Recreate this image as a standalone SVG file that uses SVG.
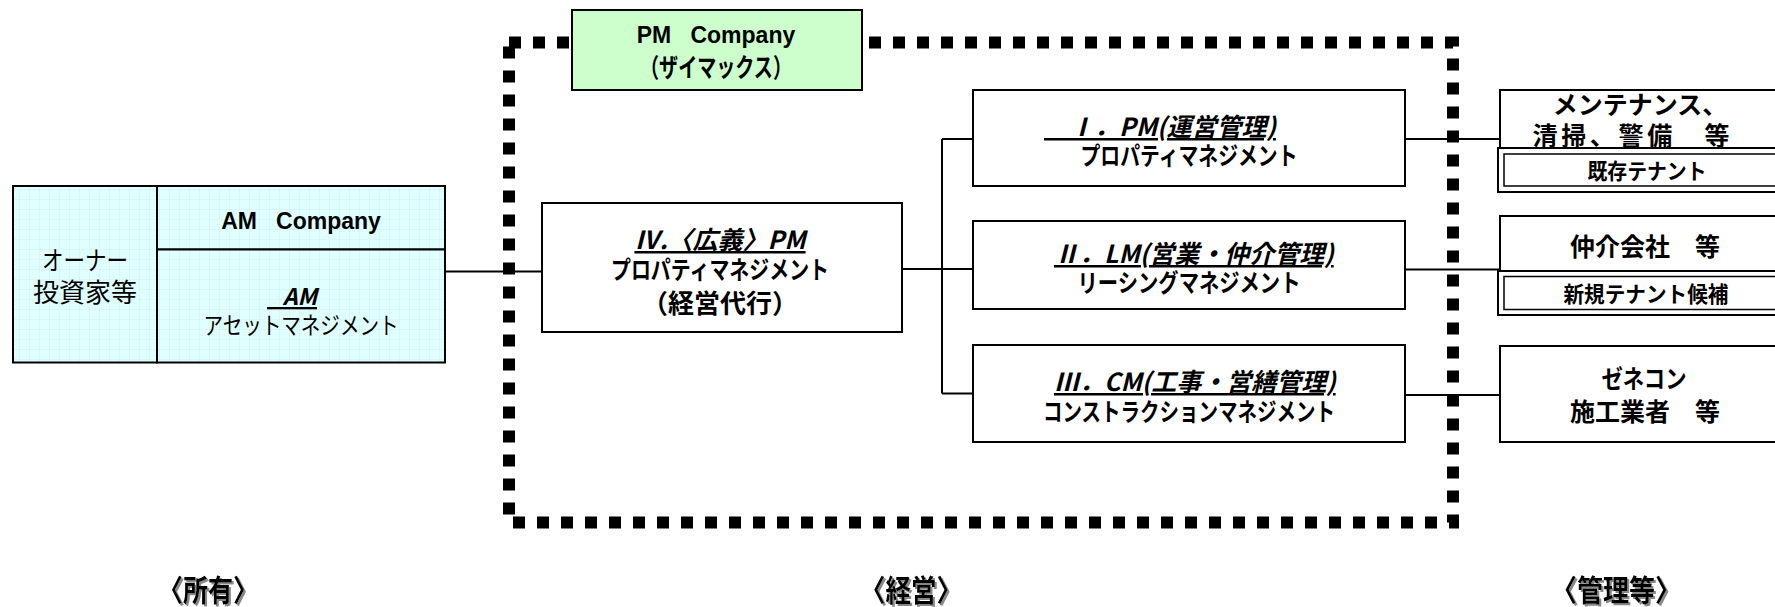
<svg xmlns="http://www.w3.org/2000/svg" width="1775" height="607" viewBox="0 0 1775 607">
<style>
text{font-family:"Liberation Sans","Noto Sans CJK JP",sans-serif;fill:#000;dominant-baseline:central;text-anchor:middle}
.b{font-weight:bold;font-size:25px}
.r{font-size:25px}
.h{font-family:"Noto Sans CJK JP",sans-serif;font-weight:bold;font-style:italic;font-size:25px;text-decoration:underline}
.hs{text-anchor:start}
.box{fill:#fff;stroke:#000;stroke-width:2}
.ln{fill:none;stroke:#000;stroke-width:2}
.lab{font-weight:bold;font-size:30px;filter:url(#sh)}
</style>
<defs>
<pattern id="grid" width="10" height="10" patternUnits="userSpaceOnUse">
<rect width="10" height="10" fill="#E0FFFF"/>
<path d="M10 0V10M0 10H10" fill="none" stroke="#C6EEF0" stroke-width="0.8"/>
</pattern>
<filter id="sh" x="-10%" y="-10%" width="130%" height="130%">
<feDropShadow dx="2" dy="2" stdDeviation="0" flood-color="#888"/>
</filter>
</defs>

<rect id="frame" x="509" y="42.5" width="944" height="480" fill="none" stroke="#000" stroke-width="12" stroke-dasharray="12 12"/>

<g id="connectors">
<path class="ln" d="M445 271.5H542"/>
<path class="ln" d="M902 269H973"/>
<path class="ln" d="M942 139V393.5"/>
<path class="ln" d="M942 139H973"/>
<path class="ln" d="M942 393.5H973"/>
<path class="ln" d="M1405 139H1500"/>
<path class="ln" d="M1405 269.5H1500"/>
<path class="ln" d="M1405 395H1500"/>
</g>

<g id="owner">
<rect x="13" y="186" width="144" height="176.5" fill="url(#grid)" stroke="#000" stroke-width="2"/>
<text class="r" x="85" y="261" style="font-size:26px" textLength="86" lengthAdjust="spacingAndGlyphs">オーナー</text>
<text class="r" x="85" y="293" style="font-size:26px">投資家等</text>
</g>

<g id="am-company">
<rect x="157" y="186" width="288" height="63.5" fill="url(#grid)" stroke="#000" stroke-width="2"/>
<text class="b" x="301" y="221" style="font-size:23px" xml:space="preserve">AM   Company</text>
</g>

<g id="am">
<rect x="157" y="249.5" width="288" height="113" fill="url(#grid)" stroke="#000" stroke-width="2"/>
<text class="h" x="292" y="295" style="font-size:23px">&#160;&#160;&#160;AM</text>
<text class="r" x="301" y="325" style="font-size:24px" textLength="195" lengthAdjust="spacingAndGlyphs">アセットマネジメント</text>
</g>

<g id="pm-company">
<rect x="572" y="10" width="290" height="80" fill="#CCFFCC" stroke="#000" stroke-width="2"/>
<text class="b" x="716" y="35" style="font-size:23px" xml:space="preserve">PM   Company</text>
<text class="b" x="716" y="68" style="font-size:26px" textLength="152" lengthAdjust="spacingAndGlyphs">（ザイマックス）</text>
</g>

<g id="pm-wide">
<rect class="box" x="542" y="203" width="360" height="129"/>
<text class="h" x="720" y="238">Ⅳ.〈広義〉PM</text>
<text class="b" x="720" y="270" textLength="218" lengthAdjust="spacingAndGlyphs">プロパティマネジメント</text>
<text class="b" x="720" y="304" style="font-size:26px" textLength="156" lengthAdjust="spacingAndGlyphs">（経営代行）</text>
</g>

<g id="pm">
<rect class="box" x="973" y="90" width="432" height="96"/>
<text class="h hs" x="1044" y="125">　Ⅰ．PM(運営管理)</text>
<text class="b" x="1189" y="156" textLength="217" lengthAdjust="spacingAndGlyphs">プロパティマネジメント</text>
</g>

<g id="lm">
<rect class="box" x="973" y="221" width="432" height="88"/>
<text class="h hs" x="1054" y="252">Ⅱ．LM(営業・仲介管理)</text>
<text class="b" x="1189" y="283" textLength="223" lengthAdjust="spacingAndGlyphs">リーシングマネジメント</text>
</g>

<g id="cm">
<rect class="box" x="973" y="345" width="432" height="97"/>
<text class="h hs" x="1054" y="380">Ⅲ．CM(工事・営繕管理)</text>
<text class="b" x="1189" y="412" textLength="292" lengthAdjust="spacingAndGlyphs">コンストラクションマネジメント</text>
</g>

<g id="maintenance">
<rect class="box" x="1500" y="90" width="300" height="60"/>
<text class="b" x="1640" y="105">メンテナンス、</text>
<text class="b" x="1631" y="136" textLength="197" lengthAdjust="spacing">清掃、警備　等</text>
</g>

<g id="existing-tenant">
<rect class="box" x="1498" y="148" width="300" height="44"/>
<rect class="box" x="1504" y="154" width="290" height="32" style="stroke-width:1.5"/>
<text class="b" x="1647" y="171" style="font-size:22px" textLength="119" lengthAdjust="spacingAndGlyphs">既存テナント</text>
</g>

<g id="broker">
<rect class="box" x="1500" y="216" width="300" height="56"/>
<text class="b" x="1645" y="247">仲介会社　等</text>
</g>

<g id="new-tenant">
<rect class="box" x="1498" y="271" width="300" height="44"/>
<rect class="box" x="1504" y="276.5" width="290" height="33" style="stroke-width:1.5"/>
<text class="b" x="1646" y="294" style="font-size:22px" textLength="165" lengthAdjust="spacingAndGlyphs">新規テナント候補</text>
</g>

<g id="general-contractor">
<rect class="box" x="1500" y="346" width="300" height="96"/>
<text class="b" x="1644" y="379" textLength="85" lengthAdjust="spacingAndGlyphs">ゼネコン</text>
<text class="b" x="1645" y="412">施工業者　等</text>
</g>

<g id="labels">
<text class="lab" x="208" y="590" textLength="100" lengthAdjust="spacingAndGlyphs">〈所有〉</text>
<text class="lab" x="911" y="590" textLength="102" lengthAdjust="spacingAndGlyphs">〈経営〉</text>
<text class="lab" x="1616" y="590" textLength="130" lengthAdjust="spacingAndGlyphs">〈管理等〉</text>
</g>
</svg>
